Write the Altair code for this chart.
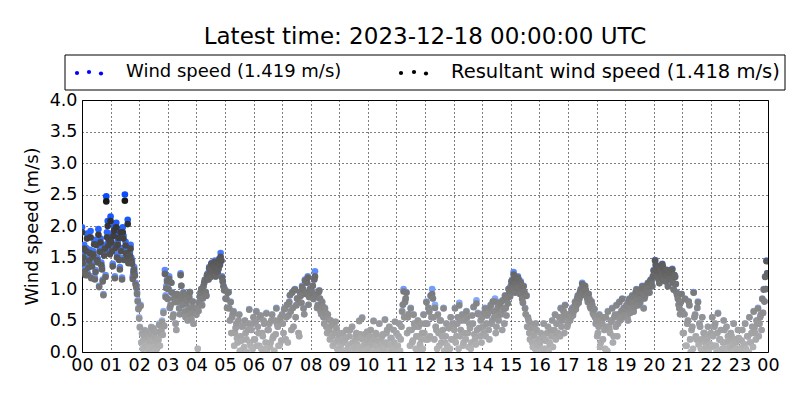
import altair as alt
import pandas as pd

series_labels = ["Wind speed (1.419 m/s)", "Resultant wind speed (1.418 m/s)"]
chart_title = "Latest time: 2023-12-18 00:00:00 UTC"
hour_ticks = list(range(25))
speed_ticks = [0.0, 0.5, 1.0, 1.5, 2.0, 2.5, 3.0, 3.5, 4.0]

# wind speed, one value every 3 minutes (minute 0, 3, 6, ...), per hour
ws_00 = [1.98, 1.55, 1.32, 1.65, 1.25, 1.50, 1.92, 1.40, 1.60, 1.18, 1.75, 1.48, 1.05, 1.80, 1.35, 0.92, 1.70, 2.47, 2.08, 1.85]
ws_01 = [2.15, 1.65, 1.90, 1.20, 2.05, 1.75, 1.50, 1.95, 1.18, 1.85, 2.50, 1.60, 2.10, 1.55, 1.70, 1.45, 1.30, 1.25, 1.05, 0.82]
ws_02 = [0.55, 0.75, 0.30, 0.20, 0.35, 0.10, 0.25, 0.05, 0.30, 0.15, 0.38, 0.00, 0.22, 0.12, 0.45, 0.30, 0.50, 0.65, 1.30, 1.05]
ws_03 = [0.85, 1.20, 0.75, 0.95, 0.60, 0.80, 0.35, 0.90, 0.70, 1.25, 0.85, 0.95, 0.65, 0.78, 0.50, 0.88, 0.60, 0.72, 0.45, 0.65]
ws_04 = [0.60, 0.05, 0.80, 0.95, 0.75, 1.05, 1.15, 0.90, 1.25, 1.35, 1.20, 1.42, 1.30, 1.45, 1.38, 1.28, 1.48, 1.57, 1.20, 1.05]
ws_05 = [1.00, 0.85, 0.95, 0.70, 0.80, 0.55, 0.65, 0.30, 0.45, 0.15, 0.60, 0.25, 0.40, 0.05, 0.50, 0.20, 0.35, 0.68, 0.10, 0.45]
ws_06 = [0.55, 0.20, 0.65, 0.40, 0.10, 0.58, 0.30, 0.50, 0.05, 0.62, 0.35, 0.45, 0.15, 0.60, 0.25, 0.50, 0.70, 0.40, 0.10, 0.55]
ws_07 = [0.60, 0.30, 0.70, 0.55, 0.15, 0.80, 0.65, 0.95, 0.40, 1.00, 0.75, 0.85, 0.25, 0.90, 1.05, 0.70, 1.15, 0.95, 1.20, 0.88]
ws_08 = [1.00, 0.95, 0.85, 1.28, 0.90, 0.75, 0.98, 0.65, 0.80, 0.55, 0.70, 0.40, 0.60, 0.35, 0.50, 0.25, 0.45, 0.15, 0.38, 0.20]
ws_09 = [0.30, 0.10, 0.20, 0.00, 0.15, 0.35, 0.05, 0.25, 0.12, 0.40, 0.02, 0.18, 0.30, 0.08, 0.50, 0.22, 0.55, 0.10, 0.28, 0.15]
ws_10 = [0.20, 0.05, 0.35, 0.15, 0.50, 0.10, 0.28, 0.00, 0.45, 0.18, 0.25, 0.08, 0.52, 0.30, 0.12, 0.40, 0.22, 0.05, 0.35, 0.48]
ws_11 = [0.30, 0.10, 0.45, 0.20, 0.65, 1.00, 0.80, 0.95, 0.55, 0.35, 0.70, 0.15, 0.60, 0.40, 0.25, 0.50, 0.05, 0.45, 0.30, 0.60]
ws_12 = [0.45, 0.80, 0.20, 0.65, 0.90, 1.00, 0.55, 0.75, 0.35, 0.60, 0.10, 0.50, 0.25, 0.70, 0.15, 0.45, 0.05, 0.38, 0.55, 0.20]
ws_13 = [0.40, 0.70, 0.25, 0.55, 0.78, 0.35, 0.60, 0.15, 0.50, 0.65, 0.30, 0.45, 0.05, 0.58, 0.72, 0.20, 0.82, 0.62, 0.38, 0.50]
ws_14 = [0.55, 0.30, 0.70, 0.45, 0.62, 0.20, 0.75, 0.50, 0.65, 0.85, 0.40, 0.72, 0.60, 0.80, 0.35, 0.68, 0.90, 0.58, 0.78, 0.95]
ws_15 = [1.05, 1.15, 1.27, 0.95, 1.10, 1.20, 1.00, 1.12, 0.85, 1.05, 0.70, 0.90, 0.55, 0.30, 0.45, 0.15, 0.25, 0.05, 0.35, 0.20]
ws_16 = [0.10, 0.30, 0.00, 0.45, 0.20, 0.05, 0.40, 0.15, 0.35, 0.50, 0.25, 0.60, 0.45, 0.30, 0.55, 0.70, 0.50, 0.65, 0.75, 0.60]
ws_17 = [0.45, 0.60, 0.55, 0.70, 0.65, 0.80, 0.75, 0.90, 0.85, 1.00, 1.10, 0.95, 1.05, 0.90, 0.80, 0.85, 0.70, 0.75, 0.60, 0.55]
ws_18 = [0.50, 0.30, 0.60, 0.15, 0.45, 0.55, 0.05, 0.40, 0.65, 0.35, 0.50, 0.70, 0.25, 0.60, 0.75, 0.45, 0.80, 0.55, 0.85, 0.70]
ws_19 = [0.60, 0.75, 0.50, 0.85, 0.70, 0.90, 0.65, 0.80, 1.00, 0.75, 0.95, 0.85, 1.05, 0.70, 0.90, 1.00, 1.10, 0.95, 1.15, 1.05]
ws_20 = [1.30, 1.46, 1.20, 1.35, 1.10, 1.25, 1.40, 1.15, 1.30, 1.22, 1.05, 1.28, 1.18, 1.32, 1.00, 1.20, 0.95, 0.85, 0.70, 0.80]
ws_21 = [0.65, 0.30, 0.85, 0.10, 0.50, 0.75, 0.00, 0.40, 0.95, 0.60, 0.20, 0.80, 0.45, 0.05, 0.55, 0.30, 0.15, 0.25, 0.40, 0.10]
ws_22 = [0.30, 0.55, 0.10, 0.45, 0.00, 0.62, 0.20, 0.35, 0.05, 0.50, 0.15, 0.40, 0.25, 0.00, 0.30, 0.10, 0.45, 0.20, 0.05, 0.35]
ws_23 = [0.20, 0.05, 0.35, 0.10, 0.45, 0.00, 0.25, 0.55, 0.15, 0.40, 0.65, 0.30, 0.50, 0.70, 0.45, 0.60, 0.85, 1.00, 1.20, 1.45]

# wind speed in between (minute 1.5, 4.5, ...), per hour
wb_00 = [1.45, 1.70, 1.25, 1.88, 1.38, 1.62, 1.20, 1.55, 1.78, 1.30, 1.50, 1.95, 1.65, 1.42, 1.15, 1.58, 1.22, 1.90, 1.75, 1.60]
wb_01 = [1.80, 1.40, 2.00, 1.70, 1.55, 1.88, 1.35, 1.65, 1.98, 1.50, 1.75, 1.62, 1.45, 1.58, 1.50, 1.20, 1.35, 1.10, 0.95, 0.70]
wb_02 = [0.40, 0.15, 0.05, 0.28, 0.12, 0.32, 0.02, 0.18, 0.40, 0.08, 0.26, 0.33, 0.05, 0.20, 0.10, 0.35, 0.28, 0.42, 0.90, 1.15]
wb_03 = [1.00, 0.70, 1.10, 0.55, 0.85, 0.45, 0.92, 0.80, 0.60, 1.05, 0.75, 0.90, 0.55, 0.82, 0.68, 0.95, 0.52, 0.80, 0.62, 0.70]
wb_04 = [0.70, 0.65, 0.88, 1.00, 0.85, 1.10, 0.95, 1.22, 1.15, 1.30, 1.40, 1.25, 1.35, 1.20, 1.42, 1.32, 1.38, 1.45, 1.12, 0.98]
wb_05 = [0.85, 0.70, 0.95, 0.50, 0.30, 0.60, 0.10, 0.38, 0.22, 0.50, 0.02, 0.18, 0.42, 0.08, 0.30, 0.00, 0.45, 0.15, 0.35, 0.05]
wb_06 = [0.20, 0.48, 0.10, 0.30, 0.55, 0.05, 0.25, 0.45, 0.15, 0.00, 0.35, 0.08, 0.50, 0.22, 0.02, 0.28, 0.45, 0.10, 0.50, 0.18]
wb_07 = [0.45, 0.68, 0.20, 0.75, 0.58, 0.90, 0.35, 0.70, 0.98, 0.55, 0.85, 0.30, 0.95, 0.78, 1.00, 0.60, 0.92, 1.10, 0.75, 1.00]
wb_08 = [0.92, 1.05, 1.15, 0.88, 0.70, 0.95, 0.85, 0.60, 0.72, 0.45, 0.62, 0.30, 0.52, 0.20, 0.42, 0.10, 0.30, 0.48, 0.05, 0.28]
wb_09 = [0.05, 0.18, 0.30, 0.02, 0.22, 0.00, 0.10, 0.35, 0.05, 0.15, 0.08, 0.25, 0.12, 0.00, 0.28, 0.06, 0.20, 0.02, 0.10, 0.32]
wb_10 = [0.05, 0.25, 0.12, 0.00, 0.20, 0.30, 0.08, 0.18, 0.02, 0.12, 0.28, 0.05, 0.15, 0.35, 0.00, 0.10, 0.22, 0.06, 0.15, 0.02]
wb_11 = [0.08, 0.25, 0.02, 0.40, 0.75, 0.55, 0.85, 0.30, 0.60, 0.10, 0.35, 0.18, 0.45, 0.05, 0.25, 0.40, 0.12, 0.20, 0.05, 0.30]
wb_12 = [0.20, 0.45, 0.70, 0.25, 0.55, 0.85, 0.20, 0.40, 0.05, 0.30, 0.50, 0.15, 0.35, 0.02, 0.25, 0.10, 0.38, 0.05, 0.20, 0.45]
wb_13 = [0.35, 0.15, 0.45, 0.05, 0.25, 0.50, 0.10, 0.30, 0.20, 0.55, 0.08, 0.38, 0.15, 0.45, 0.28, 0.12, 0.35, 0.60, 0.25, 0.15]
wb_14 = [0.40, 0.62, 0.25, 0.58, 0.35, 0.70, 0.45, 0.80, 0.55, 0.30, 0.66, 0.50, 0.75, 0.60, 0.82, 0.45, 0.70, 0.85, 1.00, 0.88]
wb_15 = [1.12, 0.98, 1.18, 1.08, 1.02, 1.15, 0.92, 1.05, 0.78, 0.95, 0.60, 0.40, 0.50, 0.20, 0.38, 0.08, 0.28, 0.45, 0.12, 0.00]
wb_16 = [0.15, 0.02, 0.22, 0.05, 0.18, 0.30, 0.00, 0.12, 0.25, 0.08, 0.35, 0.20, 0.30, 0.45, 0.25, 0.40, 0.55, 0.30, 0.60, 0.40]
wb_17 = [0.52, 0.50, 0.65, 0.58, 0.72, 0.68, 0.85, 0.78, 0.95, 0.90, 1.02, 1.05, 0.98, 0.85, 0.92, 0.72, 0.80, 0.62, 0.68, 0.45]
wb_18 = [0.25, 0.40, 0.08, 0.50, 0.20, 0.35, 0.55, 0.02, 0.40, 0.30, 0.48, 0.15, 0.55, 0.40, 0.25, 0.60, 0.50, 0.65, 0.55, 0.70]
wb_19 = [0.68, 0.55, 0.80, 0.62, 0.78, 0.88, 0.72, 0.95, 0.82, 0.90, 0.78, 1.00, 0.92, 0.85, 1.05, 0.95, 1.02, 1.12, 1.08, 1.20]
wb_20 = [1.22, 1.38, 1.28, 1.15, 1.30, 1.20, 1.35, 1.25, 1.12, 1.30, 1.20, 1.15, 1.25, 1.10, 1.22, 1.08, 0.90, 0.75, 0.60, 0.92]
wb_21 = [0.30, 0.60, 0.10, 0.45, 0.80, 0.20, 0.35, 0.05, 0.55, 0.25, 0.70, 0.12, 0.40, 0.20, 0.02, 0.30, 0.08, 0.20, 0.00, 0.12]
wb_22 = [0.08, 0.25, 0.40, 0.10, 0.30, 0.02, 0.20, 0.00, 0.15, 0.35, 0.05, 0.00, 0.18, 0.08, 0.25, 0.12, 0.00, 0.15, 0.05, 0.22]
wb_23 = [0.05, 0.18, 0.00, 0.12, 0.05, 0.25, 0.00, 0.15, 0.30, 0.08, 0.38, 0.20, 0.45, 0.25, 0.55, 0.35, 0.62, 0.80, 1.00, 1.25]

# resultant wind speed, minute 0, 3, 6, ...
rs_00 = [1.90, 1.50, 1.28, 1.60, 1.22, 1.45, 1.82, 1.36, 1.55, 1.15, 1.70, 1.42, 1.03, 1.74, 1.31, 0.90, 1.64, 2.39, 2.00, 1.78]
rs_01 = [2.08, 1.60, 1.84, 1.17, 1.98, 1.70, 1.46, 1.90, 1.15, 1.80, 2.40, 1.55, 2.03, 1.50, 1.64, 1.40, 1.26, 1.21, 1.02, 0.80]
rs_02 = [0.53, 0.73, 0.29, 0.19, 0.34, 0.10, 0.24, 0.05, 0.29, 0.15, 0.37, 0.00, 0.21, 0.12, 0.43, 0.29, 0.48, 0.62, 1.24, 1.01]
rs_03 = [0.84, 1.16, 0.74, 0.94, 0.59, 0.79, 0.35, 0.89, 0.69, 1.22, 0.84, 0.94, 0.64, 0.77, 0.50, 0.87, 0.60, 0.71, 0.45, 0.64]
rs_04 = [0.59, 0.05, 0.79, 0.94, 0.74, 1.04, 1.14, 0.89, 1.23, 1.33, 1.19, 1.40, 1.29, 1.43, 1.36, 1.27, 1.46, 1.51, 1.18, 1.04]
rs_05 = [0.98, 0.84, 0.94, 0.69, 0.79, 0.55, 0.64, 0.30, 0.45, 0.15, 0.59, 0.25, 0.40, 0.05, 0.50, 0.20, 0.35, 0.67, 0.10, 0.45]
rs_06 = [0.55, 0.20, 0.64, 0.40, 0.10, 0.58, 0.30, 0.50, 0.05, 0.61, 0.35, 0.45, 0.15, 0.59, 0.25, 0.50, 0.69, 0.40, 0.10, 0.55]
rs_07 = [0.59, 0.30, 0.69, 0.55, 0.15, 0.79, 0.64, 0.94, 0.40, 0.99, 0.74, 0.84, 0.25, 0.89, 1.03, 0.69, 1.13, 0.94, 1.18, 0.87]
rs_08 = [0.99, 0.94, 0.84, 1.20, 0.89, 0.74, 0.97, 0.64, 0.79, 0.55, 0.69, 0.40, 0.59, 0.35, 0.50, 0.25, 0.45, 0.15, 0.38, 0.20]
rs_09 = [0.30, 0.10, 0.20, 0.00, 0.15, 0.35, 0.05, 0.25, 0.12, 0.40, 0.02, 0.18, 0.30, 0.08, 0.49, 0.22, 0.54, 0.10, 0.28, 0.15]
rs_10 = [0.20, 0.05, 0.35, 0.15, 0.49, 0.10, 0.28, 0.00, 0.45, 0.18, 0.25, 0.08, 0.51, 0.30, 0.12, 0.40, 0.22, 0.05, 0.35, 0.48]
rs_11 = [0.30, 0.10, 0.45, 0.20, 0.64, 0.96, 0.79, 0.94, 0.55, 0.35, 0.69, 0.15, 0.59, 0.40, 0.25, 0.50, 0.05, 0.45, 0.30, 0.59]
rs_12 = [0.45, 0.79, 0.20, 0.64, 0.89, 0.92, 0.55, 0.70, 0.35, 0.59, 0.10, 0.50, 0.25, 0.69, 0.15, 0.45, 0.05, 0.38, 0.55, 0.20]
rs_13 = [0.40, 0.69, 0.25, 0.55, 0.74, 0.35, 0.59, 0.15, 0.50, 0.64, 0.30, 0.45, 0.05, 0.58, 0.71, 0.20, 0.77, 0.61, 0.38, 0.50]
rs_14 = [0.55, 0.30, 0.69, 0.45, 0.61, 0.20, 0.74, 0.50, 0.64, 0.80, 0.40, 0.71, 0.59, 0.79, 0.35, 0.67, 0.89, 0.58, 0.77, 0.94]
rs_15 = [1.03, 1.13, 1.23, 0.94, 1.08, 1.18, 0.99, 1.10, 0.84, 1.04, 0.69, 0.89, 0.55, 0.30, 0.45, 0.15, 0.25, 0.05, 0.35, 0.20]
rs_16 = [0.10, 0.30, 0.00, 0.45, 0.20, 0.05, 0.40, 0.15, 0.35, 0.50, 0.25, 0.59, 0.45, 0.30, 0.55, 0.69, 0.50, 0.64, 0.74, 0.59]
rs_17 = [0.45, 0.59, 0.55, 0.69, 0.64, 0.79, 0.74, 0.89, 0.84, 0.99, 1.08, 0.94, 1.04, 0.89, 0.79, 0.84, 0.69, 0.74, 0.59, 0.55]
rs_18 = [0.50, 0.30, 0.59, 0.15, 0.45, 0.55, 0.05, 0.40, 0.64, 0.35, 0.50, 0.69, 0.25, 0.59, 0.74, 0.45, 0.79, 0.55, 0.84, 0.69]
rs_19 = [0.59, 0.74, 0.50, 0.84, 0.69, 0.89, 0.64, 0.79, 0.99, 0.74, 0.94, 0.84, 1.04, 0.69, 0.89, 0.99, 1.09, 0.94, 1.14, 1.04]
rs_20 = [1.29, 1.45, 1.19, 1.34, 1.09, 1.24, 1.39, 1.14, 1.29, 1.21, 1.04, 1.27, 1.17, 1.31, 0.99, 1.19, 0.94, 0.84, 0.69, 0.79]
rs_21 = [0.64, 0.30, 0.84, 0.10, 0.50, 0.74, 0.00, 0.40, 0.94, 0.59, 0.20, 0.79, 0.45, 0.05, 0.55, 0.30, 0.15, 0.25, 0.40, 0.10]
rs_22 = [0.30, 0.55, 0.10, 0.45, 0.00, 0.61, 0.20, 0.35, 0.05, 0.50, 0.15, 0.40, 0.25, 0.00, 0.30, 0.10, 0.45, 0.20, 0.05, 0.35]
rs_23 = [0.20, 0.05, 0.35, 0.10, 0.45, 0.00, 0.25, 0.55, 0.15, 0.40, 0.64, 0.30, 0.50, 0.69, 0.45, 0.59, 0.84, 0.99, 1.19, 1.44]

# resultant wind speed in between (minute 1.5, 4.5, ...); from 03 on it matches wind speed
rb_00 = [1.41, 1.64, 1.22, 1.80, 1.34, 1.57, 1.17, 1.50, 1.71, 1.27, 1.46, 1.86, 1.59, 1.38, 1.12, 1.53, 1.19, 1.82, 1.69, 1.55]
rb_01 = [1.74, 1.36, 1.93, 1.65, 1.50, 1.81, 1.31, 1.60, 1.90, 1.46, 1.69, 1.57, 1.41, 1.53, 1.46, 1.16, 1.31, 1.07, 0.92, 0.68]
rb_02 = [0.39, 0.15, 0.05, 0.27, 0.12, 0.31, 0.02, 0.18, 0.39, 0.08, 0.25, 0.32, 0.05, 0.19, 0.10, 0.34, 0.27, 0.41, 0.87, 1.12]

ws_hours = [ws_00, ws_01, ws_02, ws_03, ws_04, ws_05, ws_06, ws_07, ws_08, ws_09, ws_10, ws_11,
            ws_12, ws_13, ws_14, ws_15, ws_16, ws_17, ws_18, ws_19, ws_20, ws_21, ws_22, ws_23]
wb_hours = [wb_00, wb_01, wb_02, wb_03, wb_04, wb_05, wb_06, wb_07, wb_08, wb_09, wb_10, wb_11,
            wb_12, wb_13, wb_14, wb_15, wb_16, wb_17, wb_18, wb_19, wb_20, wb_21, wb_22, wb_23]
rs_hours = [rs_00, rs_01, rs_02, rs_03, rs_04, rs_05, rs_06, rs_07, rs_08, rs_09, rs_10, rs_11,
            rs_12, rs_13, rs_14, rs_15, rs_16, rs_17, rs_18, rs_19, rs_20, rs_21, rs_22, rs_23]
rb_hours = [rb_00, rb_01, rb_02] + wb_hours[3:]


def to_frame(hours_a, hours_b):
    rows = []
    for h, vals in enumerate(hours_a):
        n = len(vals)
        for i, v in enumerate(vals):
            rows.append({"hour": h + i / n, "value": v})
    for h, vals in enumerate(hours_b):
        n = len(vals)
        for i, v in enumerate(vals):
            rows.append({"hour": h + (i + 0.5) / n, "value": v})
    return pd.DataFrame(rows).sort_values("hour")


ws_df = to_frame(ws_hours, wb_hours)
rs_df = to_frame(rs_hours, rb_hours)

FONT = "DejaVu Sans"

x_enc = alt.X(
    "hour:Q",
    scale=alt.Scale(domain=[0, 24], nice=False, zero=False),
    axis=alt.Axis(
        values=hour_ticks,
        labelExpr="datum.value == 24 ? '00' : (datum.value < 10 ? '0' + datum.value : '' + datum.value)",
        title=None,
        labelOverlap=False,
        labelFlush=False,
        labelPadding=4,
    ),
)
y_enc = alt.Y(
    "value:Q",
    scale=alt.Scale(domain=[0, 4], nice=False),
    axis=alt.Axis(values=speed_ticks, format=".1f", title="Wind speed (m/s)", titlePadding=8, labelPadding=5),
)

ws_layer = alt.Chart(ws_df).mark_circle(size=44, opacity=1, clip=True).encode(
    x=x_enc,
    y=y_enc,
    color=alt.Color("value:Q", scale=alt.Scale(domain=[0, 2.3], range=["#c4d9ff", "#0a4cff"], clamp=True, interpolate="rgb"), legend=None),
)
rs_layer = alt.Chart(rs_df).mark_circle(size=44, opacity=1, clip=True).encode(
    x=x_enc,
    y=y_enc,
    color=alt.Color("value:Q", scale=alt.Scale(domain=[0, 2.8], range=["#b6b6b6", "#000000"], clamp=True, interpolate="rgb"), legend=None),
)

one = pd.DataFrame({"k": [0]})

legend_box = alt.Chart(one).mark_rect(fill="white", stroke="black", strokeWidth=1).encode(
    x=alt.value(-17), x2=alt.value(703), y=alt.value(-45), y2=alt.value(-10)
)


def dot(px, py, color):
    return alt.Chart(one).mark_circle(size=18, opacity=1, color=color).encode(x=alt.value(px), y=alt.value(py))


legend_dots = [
    dot(-5, -27, "#0000ff"), dot(7, -28, "#0000ff"), dot(19, -26.5, "#0000ff"),
    dot(319, -27, "black"), dot(332, -28, "black"), dot(344, -26.5, "black"),
]
legend_text1 = alt.Chart(one).mark_text(align="left", baseline="middle", fontSize=18, font=FONT, color="black").encode(
    x=alt.value(44), y=alt.value(-28), text=alt.value(series_labels[0])
)
legend_text2 = alt.Chart(one).mark_text(align="left", baseline="middle", fontSize=19.5, font=FONT, color="black").encode(
    x=alt.value(369), y=alt.value(-28), text=alt.value(series_labels[1])
)

chart = alt.layer(
    ws_layer, rs_layer, legend_box, *legend_dots, legend_text1, legend_text2
).resolve_scale(color="independent").properties(
    width=686,
    height=252,
    autosize=alt.AutoSizeParams(type="none"),
    padding={"left": 74, "top": 92, "right": 24, "bottom": 40},
    title=alt.TitleParams(chart_title, fontSize=23, font=FONT, fontWeight="normal", anchor="middle", offset=6, color="black"),
).configure_view(
    stroke="black", strokeWidth=1
).configure_axis(
    domain=False,
    ticks=False,
    grid=True,
    gridColor="black",
    gridDash=[1, 3],
    gridOpacity=1,
    gridWidth=1,
    labelFont=FONT,
    labelFontSize=17.5,
    labelColor="black",
    titleFont=FONT,
    titleFontSize=18,
    titleFontWeight="normal",
    titleColor="black",
)

chart.save("out.html", embed_options={"renderer": "svg", "actions": False})
